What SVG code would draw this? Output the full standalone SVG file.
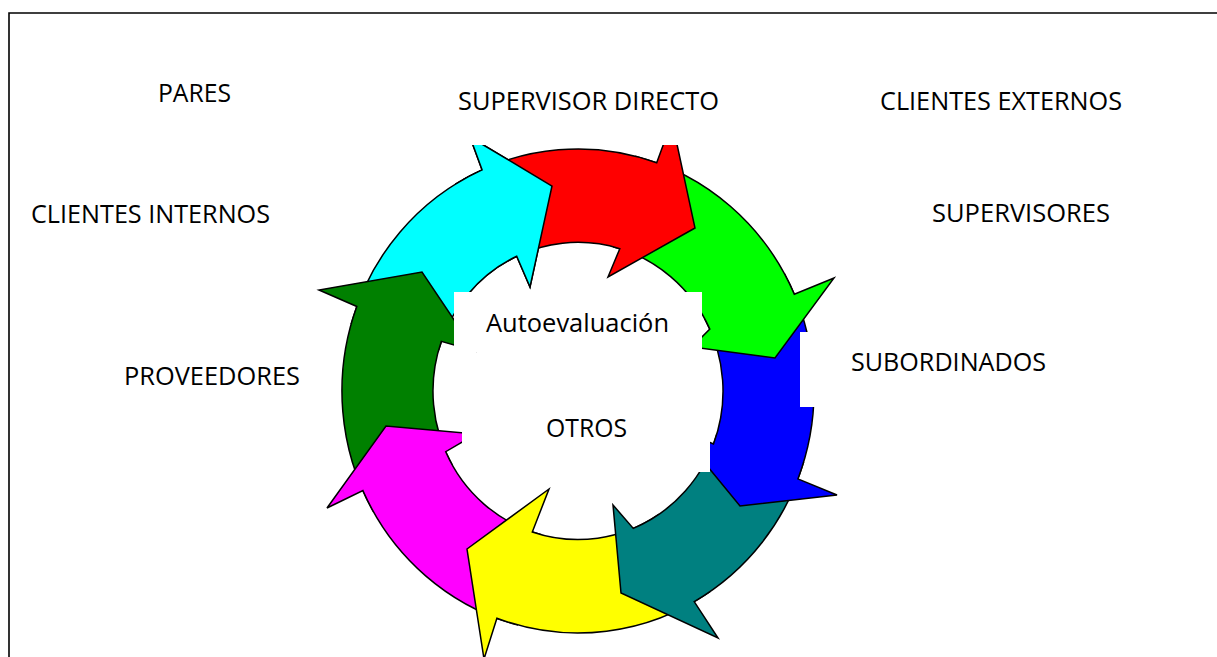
<svg xmlns="http://www.w3.org/2000/svg" width="1217" height="657" viewBox="0 0 1217 657">
<style>
.arr{stroke:#000;stroke-width:1.5;stroke-linejoin:miter;stroke-linecap:butt}
.box{fill:#fff;stroke:none}
.lbl{font-family:"Open Sans","Liberation Sans",sans-serif;font-size:25px;fill:#000}
.frame{stroke:#000;stroke-width:1.6;fill:none}
</style>
<defs>
<clipPath id="cyanHead"><rect x="455" y="100" width="200" height="195"/></clipPath>
<path id="cyanPath" d="M 351.1 324.3 A 236 242 0 0 1 482.1 169.9 L 470 137 L 552 186 L 530 287 L 516.7 256.3 A 145 148.6 0 0 0 438.6 350"/>
</defs>
<rect x="0" y="0" width="1217" height="657" fill="#fff"/>
<path class="frame" d="M 9 657 L 9 13 L 1217 13"/>
<g id="connectors">
<use id="arrow-cyan" href="#cyanPath" class="arr" fill="#00FFFF"/>
<path id="arrow-darkgreen" class="arr" fill="#008000" d="M 373.6 512 A 236 242 0 0 1 356.8 306.5 L 319 290 L 422 272 L 475 351 L 441.3 341.4 A 145 148.6 0 0 0 452.4 465.3"/>
<path id="arrow-magenta" class="arr" fill="#FF00FF" d="M 518.1 625.1 A 236 242 0 0 1 362.9 490.6 L 327 508 L 386 426 L 476 434 L 445.7 451.7 A 145 148.6 0 0 0 541.2 534.7"/>
<path id="arrow-yellow" class="arr" fill="#FFFF00" d="M 710 591.6 A 236 242 0 0 1 496.9 618.2 L 484 659 L 467 549 L 549 489 L 532.3 532 A 145 148.6 0 0 0 659.1 514.2"/>
<path id="arrow-teal" class="arr" fill="#008080" d="M 803.7 461.8 A 236 242 0 0 1 694.2 601.6 L 718 638 L 621 593 L 613 505 L 633.3 528.4 A 145 148.6 0 0 0 716.7 434.4"/>
<path id="arrow-blue" class="arr" fill="#0000FF" d="M 784.4 273.7 A 236 242 0 0 1 797.9 478.9 L 837 495 L 740 506 L 676 428 L 713.5 444 A 145 148.6 0 0 0 704.8 319"/>
<path id="arrow-green" class="arr" fill="#00FF00" d="M 635.1 156.2 A 236 242 0 0 1 794.3 294.3 L 834 278 L 775 358 L 692 347 L 709.8 329 A 145 148.6 0 0 0 613.1 246.8"/>
<path id="arrow-red" class="arr" fill="#FF0000" d="M 463.6 179.3 A 236 242 0 0 1 656.7 162.8 L 672 121 L 695 228 L 608 277 L 619.8 248.7 A 145 148.6 0 0 0 507.7 261"/>
<use href="#cyanPath" class="arr" fill="#00FFFF" clip-path="url(#cyanHead)"/>
</g>
<g id="node-supervisor-directo">
<rect class="box" x="440" y="70" width="300" height="75"/>
<text class="lbl" x="458" y="110" textLength="261" lengthAdjust="spacingAndGlyphs">SUPERVISOR DIRECTO</text>
</g>
<g id="node-pares"><text class="lbl" x="158" y="102" textLength="73" lengthAdjust="spacingAndGlyphs">PARES</text></g>
<g id="node-clientes-externos"><text class="lbl" x="880" y="110" textLength="242" lengthAdjust="spacingAndGlyphs">CLIENTES EXTERNOS</text></g>
<g id="node-clientes-internos"><text class="lbl" x="31" y="223" textLength="239" lengthAdjust="spacingAndGlyphs">CLIENTES INTERNOS</text></g>
<g id="node-supervisores"><text class="lbl" x="932" y="222" textLength="178" lengthAdjust="spacingAndGlyphs">SUPERVISORES</text></g>
<g id="node-subordinados">
<rect class="box" x="800" y="332" width="270" height="75"/>
<text class="lbl" x="851" y="371" textLength="195" lengthAdjust="spacingAndGlyphs">SUBORDINADOS</text>
</g>
<g id="node-proveedores"><text class="lbl" x="124" y="385" textLength="176" lengthAdjust="spacingAndGlyphs">PROVEEDORES</text></g>
<g id="node-otros">
<rect class="box" x="462" y="355" width="248" height="117"/>
<text class="lbl" x="546" y="437" textLength="81" lengthAdjust="spacingAndGlyphs">OTROS</text>
</g>
<g id="node-autoevaluacion">
<rect class="box" x="454" y="292" width="248" height="60"/>
<text class="lbl" x="486" y="332" textLength="183" lengthAdjust="spacingAndGlyphs">Autoevaluación</text>
</g>
</svg>
